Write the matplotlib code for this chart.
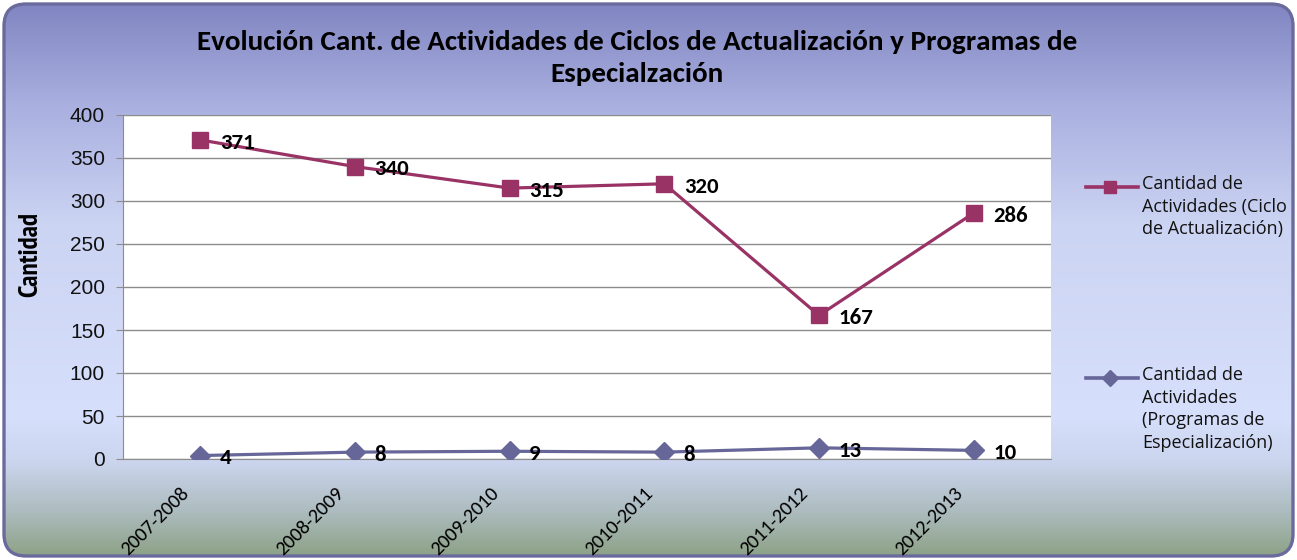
import numpy as np
import matplotlib
matplotlib.use("Agg")
import matplotlib.pyplot as plt
from matplotlib.colors import LinearSegmentedColormap
from matplotlib.patches import FancyBboxPatch
from matplotlib.lines import Line2D
from matplotlib.transforms import ScaledTranslation

# data
periodos = ["2007-2008", "2008-2009", "2009-2010", "2010-2011", "2011-2012", "2012-2013"]
ciclo_actualizacion = [371, 340, 315, 320, 167, 286]
programas_especializacion = [4, 8, 9, 8, 13, 10]

titulo = ("Evolución Cant. de Actividades de Ciclos de Actualización y Programas de\n"
          "Especialzación")
etiqueta_ciclo = "Cantidad de\nActividades (Ciclo\nde Actualización)"
etiqueta_prog = "Cantidad de\nActividades\n(Programas de\nEspecialización)"

COL_CICLO = "#993366"
COL_PROG = "#666699"

W, H = 1297, 560
fig = plt.figure(figsize=(W / 100, H / 100), dpi=100)
fig.patch.set_alpha(0)

# background: rounded box with vertical gradient
bg = fig.add_axes([0, 0, 1, 1], zorder=-5)
bg.set_xlim(0, W)
bg.set_ylim(0, H)
bg.axis("off")
cmap = LinearSegmentedColormap.from_list("fondo", [
    (0.00, "#8da287"),
    (0.08, "#adbcbf"),
    (0.17, "#cbd5ee"),
    (0.25, "#d6dffb"),
    (0.60, "#ccd4f3"),
    (0.82, "#a9afdf"),
    (1.00, "#8186c2"),
])
grad = np.linspace(0, 1, 256).reshape(-1, 1)
box = FancyBboxPatch((4, 4), W - 8, H - 8, boxstyle="round,pad=0,rounding_size=22",
                     facecolor="none", edgecolor="#6a6a9c", linewidth=2.4,
                     transform=bg.transData, zorder=3)
im = bg.imshow(grad, cmap=cmap, origin="lower", extent=[4, W - 4, 4, H - 4],
               aspect="auto", zorder=1)
im.set_clip_path(box)
bg.add_patch(box)

# main plot area
ax = fig.add_axes([123 / W, (H - 459) / H, (1051 - 123) / W, (459 - 115) / H])
ax.set_facecolor("white")
x = np.arange(len(periodos))

ax.plot(x, ciclo_actualizacion, color=COL_CICLO, lw=2.3, marker="s",
        markersize=12, zorder=3)
ax.plot(x, programas_especializacion, color=COL_PROG, lw=2.3, marker="D",
        markersize=10, zorder=3)

for serie in (ciclo_actualizacion, programas_especializacion):
    for xi, v in zip(x, serie):
        ax.annotate(str(v), (xi, v), xytext=(14, -2), textcoords="offset points",
                    fontsize=16.5, fontweight="bold", ha="left", va="center",
                    family="Carlito")

ax.set_xlim(-0.5, len(periodos) - 0.5)
ax.set_ylim(0, 400)
ax.set_yticks(range(0, 401, 50))
ax.set_yticklabels([str(t) for t in range(0, 401, 50)], family="Liberation Sans",
                   fontsize=15)
ax.yaxis.grid(True, color="#8c8c8c", lw=1)
ax.set_axisbelow(True)
ax.tick_params(axis="y", length=5, color="#8c8c8c", pad=8, labelcolor="#111111")

ax.set_xticks(x)
ax.set_xticklabels(periodos, rotation=45, ha="right", va="top",
                   rotation_mode="anchor", fontsize=14.5, family="Carlito")
ax.tick_params(axis="x", length=0, pad=0)
shift = ScaledTranslation(-20 / 100, -25 / 100, fig.dpi_scale_trans)
for lab in ax.get_xticklabels():
    lab.set_transform(lab.get_transform() + shift)

for s in ["top", "right"]:
    ax.spines[s].set_visible(False)
for s in ["left", "bottom"]:
    ax.spines[s].set_color("#8c8c8c")

fig.text(30 / W, 1 - 255 / H, "Cantidad", rotation=90, ha="center", va="center",
         fontsize=19.5, fontweight="bold", family="PT Sans Narrow")

fig.text(637 / W, 1 - 58 / H, titulo, ha="center", va="center", fontsize=21,
         fontweight="bold", family="Carlito", linespacing=1.38)

# legend on the right, handle level with the first text line
for etiqueta, color, marca, ms, y0 in [
        (etiqueta_ciclo, COL_CICLO, "s", 9, 187),
        (etiqueta_prog, COL_PROG, "D", 8, 378)]:
    fy = 1 - y0 / H
    fig.add_artist(Line2D([1086 / W, 1110 / W, 1138 / W], [fy, fy, fy], color=color,
                          lw=2.6, marker=marca, markersize=ms, markevery=[1],
                          transform=fig.transFigure))
    fig.text(1142 / W, fy + 12 / H, etiqueta, ha="left", va="top", fontsize=13,
             family="Open Sans", linespacing=1.33, color="#111111")

fig.savefig("out.png", dpi=100)
